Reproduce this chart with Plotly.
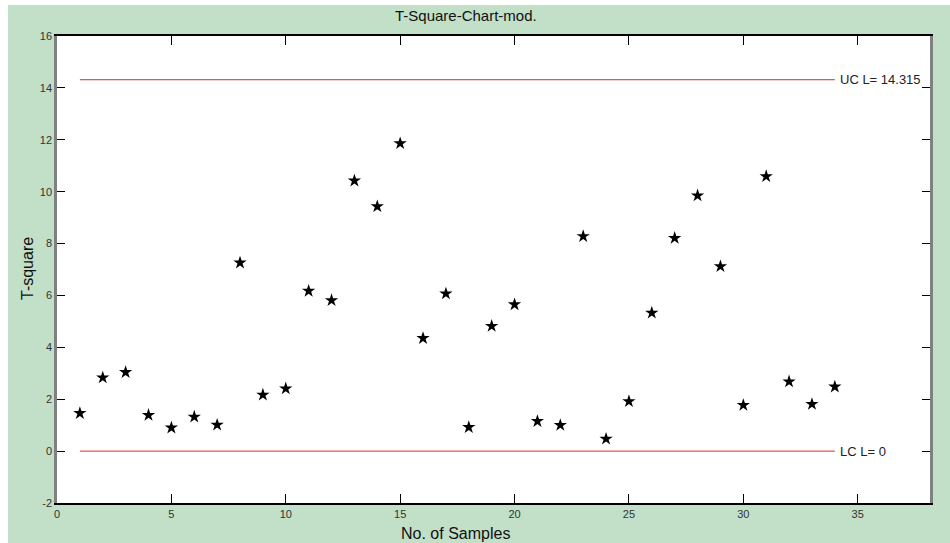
import plotly.graph_objects as go

samples = list(range(1, 35))
t_square = [1.46, 2.83, 3.04, 1.39, 0.90, 1.32, 1.01, 7.26, 2.17, 2.41,
            6.17, 5.81, 10.42, 9.43, 11.86, 4.35, 6.07, 0.92, 4.82, 5.65,
            1.15, 1.00, 8.28, 0.47, 1.92, 5.33, 8.21, 9.85, 7.12, 1.77,
            10.59, 2.68, 1.81, 2.48]
ucl = 14.315
lcl = 0
x_ticks = [0, 5, 10, 15, 20, 25, 30, 35]
y_ticks = [-2, 0, 2, 4, 6, 8, 10, 12, 14, 16]
y_tick_text = ["-2", "0", "2", "4", "6", "8", "10", "12", "14", "16"]

GREEN = "rgb(194,223,199)"
LINE_RED = "rgb(220,40,40)"
FONT = "Liberation Sans, Arial, sans-serif"

fig = go.Figure()
fig.add_trace(go.Scatter(x=[samples[0], samples[-1]], y=[ucl, ucl], mode="lines",
                         line=dict(color=LINE_RED, width=1), hoverinfo="skip"))
fig.add_trace(go.Scatter(x=[samples[0], samples[-1]], y=[lcl, lcl], mode="lines",
                         line=dict(color=LINE_RED, width=1), hoverinfo="skip"))
fig.add_trace(go.Scatter(x=samples, y=t_square, mode="markers",
                         marker=dict(symbol="star", size=10, color="black",
                                     line=dict(width=0))))

fig.add_annotation(x=samples[-1] + 0.15, y=ucl, text="UC L= 14.315", showarrow=False,
                   xanchor="left", yanchor="middle", font=dict(family=FONT, size=13, color="#222"))
fig.add_annotation(x=samples[-1] + 0.15, y=lcl, text="LC L= 0", showarrow=False,
                   xanchor="left", yanchor="middle", font=dict(family=FONT, size=13, color="#222"))

# green figure frame (white margin on left/top)
L, R, T, B = 57, 930, 36, 503
W, H = 950, 543
def px(xp): return (xp - L) / (R - L)
def py(yp): return (B - yp) / (B - T)
fig.add_shape(type="rect", xref="paper", yref="paper", x0=px(8), x1=px(W), y0=py(H), y1=py(5),
              fillcolor=GREEN, line=dict(width=0), layer="below")
fig.add_shape(type="rect", xref="paper", yref="paper", x0=0, x1=1, y0=0, y1=1,
              fillcolor="white", line=dict(width=0), layer="below")

fig.add_annotation(xref="paper", yref="paper", x=px(466), y=py(15), text="T-Square-Chart-mod.",
                   showarrow=False, xanchor="center", yanchor="middle",
                   font=dict(family=FONT, size=15, color="#111"))
fig.add_annotation(xref="paper", yref="paper", x=px(455), y=py(533), text="No. of Samples",
                   showarrow=False, xanchor="center", yanchor="middle",
                   font=dict(family=FONT, size=16, color="#111"))
fig.add_annotation(xref="paper", yref="paper", x=px(27), y=py(268), text="T-square",
                   showarrow=False, textangle=-90, xanchor="center", yanchor="middle",
                   font=dict(family=FONT, size=16, color="#111"))

fig.update_layout(
    width=W, height=H,
    margin=dict(l=L, r=W - R, t=T, b=H - B),
    paper_bgcolor="white", plot_bgcolor="white",
    showlegend=False,
    font=dict(family=FONT, size=11, color="#333"),
)
fig.update_xaxes(range=[0, 38.16], tickvals=x_ticks, ticks="inside", ticklen=9,
                 tickcolor="black", showline=True, linecolor="black", linewidth=1.5,
                 mirror="ticks", showgrid=False, zeroline=False,
                 tickfont=dict(size=11, color="#333"))
fig.update_yaxes(range=[-2, 16], tickvals=y_ticks, ticktext=y_tick_text, ticks="inside", ticklen=8,
                 tickcolor="black", showline=True, linecolor="#808080", linewidth=2.5,
                 mirror="ticks", showgrid=False, zeroline=False,
                 tickfont=dict(size=11, color="#333"))

fig.write_html("out.html")
